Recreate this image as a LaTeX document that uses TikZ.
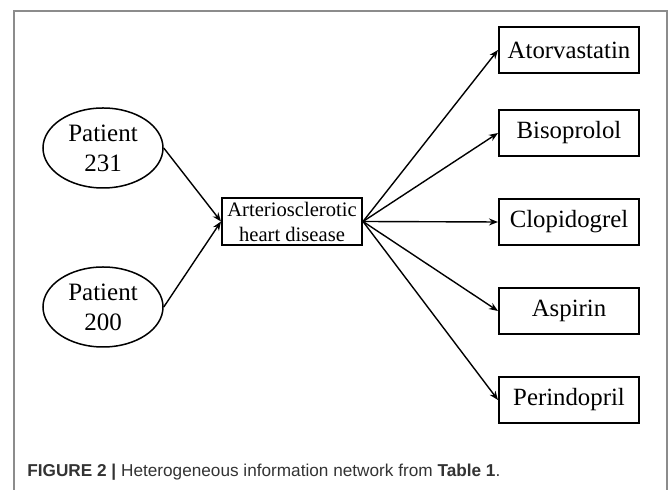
\documentclass[tikz,border=0pt]{standalone}
\usepackage{fontspec}
\setmainfont{Liberation Serif}
\newfontfamily\capfont{Liberation Sans}
\usetikzlibrary{arrows.meta,shapes.geometric}
\definecolor{framegray}{HTML}{8C8C8C}
\definecolor{captext}{HTML}{333333}
\tikzset{patient/.style={ellipse,draw,line width=.75pt,minimum width=60pt,minimum height=40pt,inner sep=0pt,align=center,font=\fontsize{12.5}{15}\selectfont},
  disease/.style={draw,line width=1pt,minimum width=70pt,minimum height=23.5pt,inner sep=0pt,align=center,font=\fontsize{10.3}{12.5}\selectfont},
  drug/.style={draw,line width=1pt,minimum width=70pt,minimum height=23pt,inner sep=0pt,font=\fontsize{12.4}{14}\selectfont},
  link/.style={-{Stealth[length=4.5pt,width=3.5pt]},line width=.7pt}}

\begin{document}
\begin{tikzpicture}[x=.5pt,y=-.5pt]
\useasboundingbox (0,0) rectangle (669,490);
\draw[framegray,line width=.6pt] (14,490)--(14,11)--(667,11)--(667,490);
\node[patient] (p231) at (103,148) {Patient\\231};
\node[patient] (p200) at (103,307) {Patient\\200};
\node[disease] (ahd) at (292,221.5) {Arteriosclerotic\\heart disease};
\foreach \d/\y in {Atorvastatin/50,Bisoprolol/133,Clopidogrel/222,Aspirin/311,Perindopril/400} {
 \node[drug] (\d) at (569,\y) {\d};
 \draw[link] (ahd.east) -- (\d.west);
}
\draw[link] (p231.east) -- (ahd.west);
\draw[link] (p200.east) -- (ahd.west);
\node[anchor=base west,font=\capfont\fontsize{8.6}{11}\selectfont,text=captext,inner sep=0pt] (cap) at (27,477)
 {\textbf{FIGURE 2 |} Heterogeneous information network from \textbf{Table 1}.};
\end{tikzpicture}
\end{document}
